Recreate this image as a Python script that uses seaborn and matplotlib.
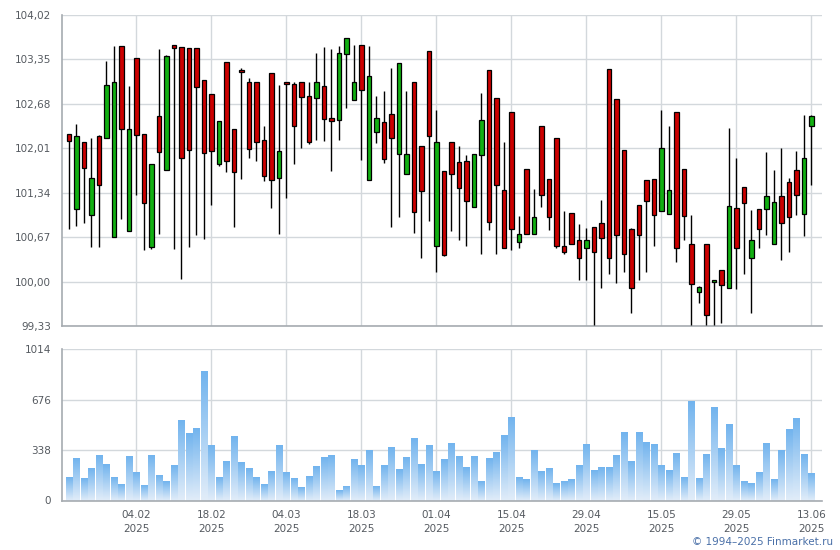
import numpy as np
import pandas as pd
import matplotlib
matplotlib.use("Agg")
import matplotlib.pyplot as plt
import seaborn as sns
from matplotlib.colors import LinearSegmentedColormap

# ---------------- data ----------------
opens = [
    102.22, 101.09, 102.11, 101.00, 102.20, 102.16, 100.67, 103.55, 100.77, 103.37,
    102.23, 100.52, 102.50, 101.69, 103.57, 103.54, 103.52, 103.52, 103.04, 102.83,
    101.77, 103.31, 102.30, 103.19, 103.01, 103.01, 102.14, 103.14, 101.56, 103.01,
    102.98, 103.01, 102.80, 102.77, 102.95, 102.46, 102.44, 103.43, 102.74, 103.57,
    101.53, 102.26, 102.41, 102.53, 101.93, 101.62, 103.01, 102.05, 103.48, 100.54,
    101.67, 102.11, 101.81, 101.82, 101.13, 101.91, 103.19, 102.77, 101.38, 102.56,
    100.60, 101.70, 100.72, 102.35, 101.55, 102.17, 100.53, 101.04, 100.62, 100.50,
    100.83, 100.89, 103.20, 102.75, 101.99, 100.80, 101.16, 101.53, 101.55, 101.07,
    101.02, 102.56, 101.70, 100.56, 99.85, 100.56, 100.00, 100.17, 99.91, 101.11,
    101.43, 100.36, 101.10, 101.10, 100.56, 101.29, 101.50, 101.69, 101.02, 102.35]

closes = [
    102.12, 102.20, 101.71, 101.56, 101.45, 102.96, 103.01, 102.30, 102.30, 102.21,
    101.18, 101.78, 101.95, 103.40, 103.52, 101.86, 101.98, 102.93, 101.94, 101.97,
    102.42, 101.82, 101.65, 103.16, 102.00, 102.11, 101.59, 101.53, 101.97, 102.98,
    102.34, 102.79, 102.10, 103.01, 102.45, 102.42, 103.45, 103.67, 103.01, 102.89,
    103.10, 102.46, 101.85, 102.17, 103.29, 101.93, 101.05, 101.36, 102.19, 102.11,
    100.40, 101.62, 101.41, 101.22, 101.93, 102.44, 100.90, 101.45, 100.50, 100.80,
    100.71, 100.72, 100.98, 101.31, 100.98, 100.53, 100.44, 100.56, 100.35, 100.62,
    100.45, 100.66, 100.35, 100.70, 100.42, 99.91, 100.70, 101.22, 101.01, 102.02,
    101.38, 100.50, 100.99, 99.97, 99.92, 99.49, 100.03, 99.95, 101.14, 100.51,
    101.19, 100.62, 100.80, 101.29, 101.20, 100.89, 100.98, 101.31, 101.87, 102.50]

highs = [
    102.23, 102.37, 102.11, 102.16, 102.21, 103.32, 103.56, 103.55, 102.95, 103.37,
    102.23, 101.78, 103.51, 103.42, 103.57, 103.54, 103.52, 103.52, 103.04, 102.83,
    102.42, 103.31, 102.30, 103.22, 103.07, 103.01, 102.35, 103.14, 102.96, 103.01,
    103.01, 103.01, 103.01, 103.44, 103.53, 103.51, 103.56, 103.67, 103.57, 103.57,
    103.56, 102.80, 102.88, 103.22, 103.29, 102.88, 103.01, 102.05, 103.48, 102.59,
    101.67, 102.11, 102.05, 101.91, 101.93, 102.84, 103.19, 102.77, 102.11, 102.56,
    100.99, 101.70, 101.40, 102.35, 101.55, 102.17, 101.07, 101.04, 100.87, 100.81,
    100.83, 101.23, 103.20, 102.75, 101.99, 100.81, 101.16, 101.53, 101.55, 102.59,
    102.35, 102.56, 101.70, 101.01, 99.94, 100.56, 100.03, 100.18, 102.32, 101.87,
    101.43, 101.08, 101.10, 101.96, 101.69, 102.02, 101.56, 101.97, 102.51, 102.51]

lows = [
    100.79, 100.84, 100.88, 100.52, 100.52, 102.16, 100.67, 100.94, 100.77, 101.30,
    100.48, 100.49, 100.71, 101.69, 100.49, 100.04, 100.52, 100.70, 100.64, 101.15,
    101.74, 101.65, 100.82, 101.54, 101.86, 101.82, 101.51, 101.11, 100.72, 101.26,
    101.77, 102.01, 102.07, 102.13, 102.12, 101.67, 102.13, 102.61, 102.74, 101.83,
    101.53, 102.09, 101.79, 100.83, 100.98, 101.62, 100.73, 100.35, 100.92, 100.14,
    100.39, 100.77, 100.62, 100.54, 101.13, 100.42, 100.78, 100.42, 100.50, 100.48,
    100.51, 100.72, 100.72, 101.13, 100.78, 100.51, 100.41, 100.56, 100.02, 100.03,
    99.35, 99.91, 100.11, 99.98, 100.14, 99.53, 100.02, 100.14, 100.54, 101.07,
    101.02, 100.29, 100.62, 99.35, 99.67, 99.35, 99.35, 99.38, 99.91, 99.89,
    100.11, 99.53, 100.50, 100.70, 100.56, 100.32, 100.44, 101.01, 100.68, 101.46]

volumes = [
    156, 282, 149, 216, 302, 242, 156, 109, 296, 189,
    102, 302, 169, 129, 236, 536, 449, 483, 870, 369,
    156, 262, 429, 256, 216, 156, 109, 196, 369, 189,
    149, 89, 162, 229, 289, 302, 69, 96, 276, 236,
    336, 96, 236, 356, 209, 289, 416, 242, 369, 196,
    276, 383, 296, 222, 296, 129, 282, 322, 436, 556,
    156, 142, 336, 196, 216, 116, 129, 142, 236, 376,
    202, 222, 222, 302, 456, 262, 456, 389, 376, 236,
    202, 316, 156, 663, 149, 309, 623, 349, 509, 236,
    129, 116, 189, 383, 142, 336, 476, 549, 309, 182]

date_labels = ["04.02\n2025", "18.02\n2025", "04.03\n2025", "18.03\n2025", "01.04\n2025",
               "15.04\n2025", "29.04\n2025", "15.05\n2025", "29.05\n2025", "13.06\n2025"]
price_ticks = [99.33, 100.00, 100.67, 101.34, 102.01, 102.68, 103.35, 104.02]
volume_ticks = [0, 338, 676, 1014]

# ---------------- styling ----------------
sns.set_style("white")
plt.rcParams["font.family"] = ["DejaVu Sans"]

GRID = "#d3d8dc"
SPINE = "#a6abb0"
LABEL = "#555a60"
RED = "#cc0000"
GREEN = "#12b012"

n = len(opens)
idx = np.arange(n)
o = np.array(opens); c = np.array(closes)
h = np.array(highs); l = np.array(lows)
tick_pos = list(range(9, n, 10))
xlim = (-0.93, 100.4)

fig = plt.figure(figsize=(8.4, 5.5), dpi=100)
ax1 = fig.add_axes([62 / 840, 1 - 326 / 550, 760 / 840, 311 / 550])
ax2 = fig.add_axes([62 / 840, 1 - 500.5 / 550, 760 / 840, 151.5 / 550])

# ---------------- candles ----------------
up = c >= o
body_low = np.minimum(o, c)
body_h = np.maximum(np.abs(c - o), 0.025)
ax1.vlines(idx, l, h, color="black", linewidth=1.0, zorder=3)
ax1.bar(idx, body_h, bottom=body_low, width=0.6,
        color=np.where(up, GREEN, RED), edgecolor="black", linewidth=0.9, zorder=4)

# ---------------- volume (seaborn) ----------------
vdf = pd.DataFrame({"i": idx, "vol": volumes})
sns.barplot(data=vdf, x="i", y="vol", ax=ax2, color="#7ab8ee", width=0.8,
            native_scale=True, saturation=1)
cmap = LinearSegmentedColormap.from_list("vg", ["#e2edf9", "#72b4ee"])
grad = np.linspace(0, 1, 64).reshape(-1, 1)
for p in list(ax2.patches):
    x0, w, hh = p.get_x(), p.get_width(), p.get_height()
    ax2.imshow(grad, extent=[x0, x0 + w, 0, hh], origin="lower", aspect="auto",
               cmap=cmap, zorder=2, interpolation="bilinear")
    p.set_visible(False)

# ---------------- axes cosmetics ----------------
for ax in (ax1, ax2):
    ax.set_xlim(*xlim)
    ax.set_xticks(tick_pos)
    ax.grid(True, color=GRID, linewidth=1.0)
    ax.set_axisbelow(True)
    for s in ("top", "right"):
        ax.spines[s].set_visible(False)
    for s in ("left", "bottom"):
        ax.spines[s].set_color(SPINE)
        ax.spines[s].set_linewidth(1.2)
    ax.tick_params(axis="both", direction="out", length=6, width=1, color=SPINE,
                   labelcolor=LABEL, labelsize=7.5, pad=2)
    ax.set_xlabel("")
    ax.set_ylabel("")

ax1.set_ylim(price_ticks[0], price_ticks[-1])
ax1.set_yticks(price_ticks)
ax1.set_yticklabels([f"{v:.2f}".replace(".", ",") for v in price_ticks])
ax1.set_xticklabels([])
ax1.tick_params(axis="x", length=5)

ax2.set_ylim(volume_ticks[0], volume_ticks[-1])
ax2.set_yticks(volume_ticks)
ax2.set_yticklabels([str(v) for v in volume_ticks])
ax2.set_xticklabels(date_labels, linespacing=1.45)
ax2.tick_params(axis="x", pad=1)

fig.text(0.992, 0.006, "© 1994–2025 Finmarket.ru", ha="right", va="bottom",
         color="#4a70a8", fontsize=7.5)

fig.savefig("out.png", dpi=100)
